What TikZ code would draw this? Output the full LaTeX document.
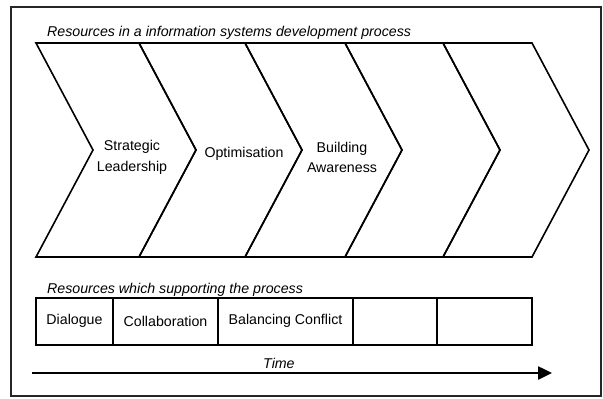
\documentclass[tikz,border=0pt]{standalone}
\usepackage{fontspec}
\setmainfont{Liberation Sans}
\usetikzlibrary{arrows.meta}
\begin{document}
\begin{tikzpicture}[x=1pt,y=-1pt,
  lbl/.style={font=\fontsize{14.2}{20.5}\selectfont, align=center, inner sep=0pt},
  ital/.style={font=\fontsize{14.2}{17}\selectfont\itshape, inner sep=0pt},
  chev/.style={draw=black, line width=1.6pt, line join=miter},
  cell/.style={draw=black, line width=1.6pt},
  frame/.style={draw=black!85, line width=1.7pt},
  timearrow/.style={line width=2.5pt, -{Triangle[length=14pt,width=13pt]}}]
\useasboundingbox (0,0) rectangle (603,399);
\fill[white] (0,0) rectangle (603,399);
\draw[frame] (11,7) rectangle (601,396);
% title
\node[ital, anchor=base west] (t1) at (47,36) {Resources in a information systems development process};
% chevrons
\foreach \L/\R in {36/139, 139/245, 245/345, 345/443, 443/532}{
  \draw[chev] (\L,43) -- (\R,43) -- (\R+57,150) -- (\R,257) -- (\L,257) -- (\L+57,150) -- cycle;
}
\node[lbl] (c1) at (132,157.5) {Strategic\\Leadership};
\node[lbl] (c2) at (244,154) {Optimisation};
\node[lbl] (c3) at (342,157.5) {Building\\Awareness};
% support
\node[ital, anchor=base west] (t2) at (47,293) {Resources which supporting the process};
\draw[cell] (36,298) rectangle (532,345);
\foreach \x in {113,218,353,437}{ \draw[cell] (\x,298) -- (\x,345); }
\node[lbl] (b1) at (74.5,321) {Dialogue};
\node[lbl] (b2) at (165.5,321) {Collaboration};
\node[lbl] (b3) at (285.5,321) {Balancing Conflict};
% time
\node[ital, anchor=base west] (tm) at (263,368) {Time};
\coordinate (ts) at (32,373);
\coordinate (te) at (552,373);
\draw[timearrow] (ts) -- (te);
\end{tikzpicture}
\end{document}
